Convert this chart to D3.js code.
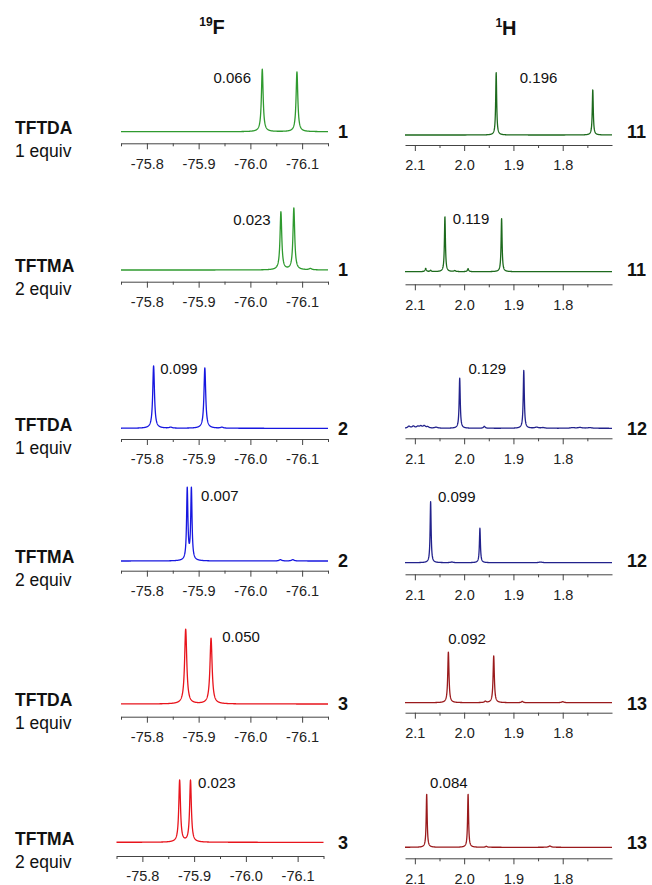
<!DOCTYPE html>
<html lang="en">
<head>
<meta charset="UTF-8">
<title>19F / 1H NMR spectra</title>
<script src="https://d3js.org/d3.v7.min.js"></script>
<style>
  body { margin: 0; padding: 0; background: #fff; }
  svg { display: block; font-family: Arial, "Liberation Sans", sans-serif; }
  .axis path, .axis line { stroke: #444; }
  .axis text { font-size: 14.5px; fill: #222; font-family: Arial, "Liberation Sans", sans-serif; }
</style>
</head>
<body>
<div id="chart"></div>
<script>
// ---- data ----
const reagents = ["TFTDA", "TFTMA", "TFTDA", "TFTMA", "TFTDA", "TFTMA"];
const equivs = ["1 equiv", "2 equiv", "1 equiv", "2 equiv", "1 equiv", "2 equiv"];
const fCompounds = ["1", "1", "2", "2", "3", "3"];
const hCompounds = ["11", "11", "12", "12", "13", "13"];

const fTicks = [-75.8, -75.9, -76.0, -76.1];
const fMinor = [-75.75, -75.85, -75.95, -76.05, -76.15];
const hTicks = [2.1, 2.0, 1.9, 1.8];
const hMinor = [2.05, 1.95, 1.85, 1.75];

const fSplit = ["0.066", "0.023", "0.099", "0.007", "0.050", "0.023"];
const hSplit = ["0.196", "0.119", "0.129", "0.099", "0.092", "0.084"];

// peaks: [shift ppm, relative intensity, half width ppm]
const fPeaks = [
  [[-76.023, 96, 0.002], [-76.090, 92, 0.002]],
  [[-76.059, 89, 0.002], [-76.084, 95, 0.002], [-76.116, 2, 0.003]],
  [[-75.813, 96, 0.002], [-75.912, 93, 0.002], [-75.846, 1.5, 0.003], [-75.945, 1.5, 0.003]],
  [[-75.878, 110, 0.0015], [-75.886, 110, 0.0015], [-76.058, 2, 0.003], [-76.082, 2, 0.003]],
  [[-75.875, 115, 0.0025], [-75.924, 101, 0.0025]],
  [[-75.872, 95, 0.002], [-75.893, 95, 0.002]]
];
const hPeaks = [
  [[1.935, 96, 0.0012], [1.739, 70, 0.0012]],
  [[2.039, 85, 0.0012], [1.924, 82, 0.0012], [2.078, 5, 0.0015], [2.068, 2, 0.0015], [2.019, 1.5, 0.002], [1.992, 4.5, 0.0015]],
  [[2.009, 77, 0.0013], [1.879, 89, 0.0013], [2.112, 3, 0.003], [2.103, 3, 0.003], [2.094, 2.5, 0.003],
   [2.088, 3, 0.003], [2.081, 3.5, 0.003], [2.074, 2, 0.003], [2.057, 1.5, 0.004], [1.959, 3, 0.002],
   [1.853, 1.5, 0.004], [1.84, 1, 0.004], [1.78, 1, 0.005], [1.765, 1.2, 0.005], [1.745, 1, 0.005]],
  [[2.068, 94, 0.0012], [1.968, 53, 0.0012], [2.025, 1, 0.003], [1.845, 1, 0.004]],
  [[2.032, 78, 0.0015], [1.940, 72, 0.0015], [1.957, 2, 0.002], [1.882, 2, 0.002], [1.80, 1.5, 0.003]],
  [[2.076, 82, 0.0012], [1.992, 82, 0.0012], [1.955, 1.5, 0.002], [1.826, 2, 0.003]]
];

// label anchors in data units: [ppm, intensity]
const fLabelAt = [[-75.965, 83], [-76.003, 78], [-75.862, 92], [-75.941, 100], [-75.982, 104], [-75.944, 92]];
const hLabelAt = [[1.849, 89], [1.986, 82], [1.953, 92], [2.015, 101], [1.994, 99], [2.031, 100]];

// ---- layout ----
const width = 652, height = 885;
const fBase = [131.7, 270, 428.3, 561, 704, 842.3];
const fAxisY = [143.3, 281.7, 439, 570.7, 716.7, 856];
const fShift = [0, 0, 0, 0, 0, -4.5];
const hBase = [135, 271.7, 428.3, 562.7, 702.7, 847.3];
const hAxisY = [145, 284.3, 438.3, 574.3, 712.7, 858.3];
const peakPx = 65; // pixels per 100 intensity units

const fColors = ["#2f9a2f", "#2f9a2f", "#1717e0", "#1717e0", "#e8141c", "#e8141c"];
const hColors = ["#1d6a1d", "#1d6a1d", "#22228c", "#22228c", "#9a1a1c", "#9a1a1c"];

const svg = d3.select("#chart").append("svg")
  .attr("width", width)
  .attr("height", height);

// headers
const hdrF = svg.append("text").attr("x", 212).attr("y", 34).attr("text-anchor", "middle")
  .attr("font-weight", "bold").attr("fill", "#111");
hdrF.append("tspan").attr("font-size", 12).attr("dy", -8).text("19");
hdrF.append("tspan").attr("font-size", 20).attr("dy", 8).text("F");
const hdrH = svg.append("text").attr("x", 506).attr("y", 35).attr("text-anchor", "middle")
  .attr("font-weight", "bold").attr("fill", "#111");
hdrH.append("tspan").attr("font-size", 12).attr("dy", -8).text("1");
hdrH.append("tspan").attr("font-size", 20).attr("dy", 8).text("H");

const fmt = d => d.toFixed(1);

function spectrum(peaks, x) {
  const [a, b] = x.domain();
  const n = 1600;
  const pts = [];
  for (let i = 0; i <= n; i++) {
    const p = a + (b - a) * i / n;
    let v = 0;
    peaks.forEach(([c, h, w]) => { const t = (p - c) / w; v += h / (1 + t * t); });
    pts.push([p, v]);
  }
  return pts;
}

function panel(x, base, axisY, peaks, ticks, minor, color, label, labelAt) {
  const y = d3.scaleLinear().domain([0, 100]).range([base, base - peakPx]);
  const line = d3.line().x(d => x(d[0])).y(d => y(d[1]));

  svg.append("path")
    .datum(spectrum(peaks, x))
    .attr("d", line)
    .attr("fill", "none")
    .attr("stroke", color)
    .attr("stroke-width", 1.3)
    .attr("stroke-linejoin", "round");

  svg.append("g").attr("class", "axis")
    .attr("transform", `translate(0,${axisY})`)
    .call(d3.axisBottom(x).tickValues(minor).tickSize(3).tickSizeOuter(0).tickFormat(""));
  svg.append("g").attr("class", "axis")
    .attr("transform", `translate(0,${axisY})`)
    .call(d3.axisBottom(x).tickValues(ticks).tickSize(6).tickSizeOuter(0).tickPadding(9).tickFormat(fmt))
    .call(g => g.select(".domain").remove());

  svg.append("text")
    .attr("x", x(labelAt[0]))
    .attr("y", y(labelAt[1]))
    .attr("dy", "0.36em")
    .attr("text-anchor", "middle")
    .attr("font-size", 15)
    .attr("fill", "#111")
    .text(label);
}

reagents.forEach((r, i) => {
  const xf = d3.scaleLinear().domain([-75.75, -76.15]).range([121 + fShift[i], 328 + fShift[i]]);
  const xh = d3.scaleLinear().domain([2.12, 1.70]).range([405, 612]);

  panel(xf, fBase[i], fAxisY[i], fPeaks[i], fTicks, fMinor, fColors[i], fSplit[i], fLabelAt[i]);
  panel(xh, hBase[i], hAxisY[i], hPeaks[i], hTicks, hMinor, hColors[i], hSplit[i], hLabelAt[i]);

  // row labels
  svg.append("text").attr("x", 15).attr("y", fBase[i] - 4).attr("dy", "0.36em")
    .attr("font-size", 17.5).attr("font-weight", "bold").attr("fill", "#111").text(r);
  svg.append("text").attr("x", 15).attr("y", fBase[i] + 19).attr("dy", "0.36em")
    .attr("font-size", 17.5).attr("fill", "#111").text(equivs[i]);

  // compound numbers
  svg.append("text").attr("x", 338).attr("y", fBase[i]).attr("dy", "0.36em")
    .attr("font-size", 18).attr("font-weight", "bold").attr("fill", "#111").text(fCompounds[i]);
  svg.append("text").attr("x", 627).attr("y", fBase[i]).attr("dy", "0.36em")
    .attr("font-size", 18).attr("font-weight", "bold").attr("fill", "#111").text(hCompounds[i]);
});
</script>
</body>
</html>
